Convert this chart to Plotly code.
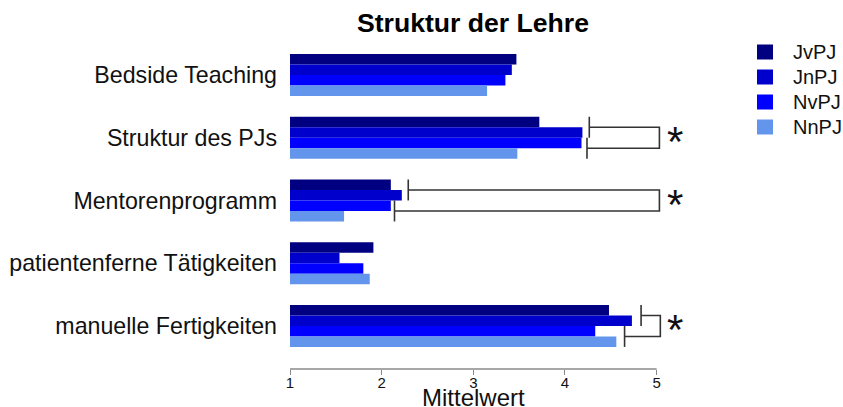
import plotly.graph_objects as go

# Mean ratings per teaching aspect and group
categories = ["Bedside Teaching", "Struktur des PJs", "Mentorenprogramm",
              "patientenferne Tätigkeiten", "manuelle Fertigkeiten"]
JvPJ = [3.47, 3.72, 2.10, 1.91, 4.48]
JnPJ = [3.42, 4.19, 2.22, 1.54, 4.73]
NvPJ = [3.35, 4.18, 2.10, 1.80, 4.33]
NnPJ = [3.15, 3.48, 1.59, 1.87, 4.56]

series_names = ["JvPJ", "JnPJ", "NvPJ", "NnPJ"]
series_values = [JvPJ, JnPJ, NvPJ, NnPJ]
series_colors = ["#000080", "#0000CD", "#0000FF", "#6495ED"]

x_ticks = [1, 2, 3, 4, 5]

# Significance brackets: category index, J-arm end, N-arm end, outer edge
sig_rows = [1, 2, 4]
sig_upper = [4.265, 2.29, 4.83]
sig_lower = [4.24, 2.14, 4.65]
sig_right = [5.03, 5.03, 5.04]

FONT = "Liberation Sans, Arial, sans-serif"

# Plot-area geometry in pixels (used to place the hand-drawn legend)
W, H = 843, 407
ML, MR, MT, MB = 290, 145, 44, 38
PW, PH = W - ML - MR, H - MT - MB


def px_to_paper(px, py):
    return (px - ML) / PW, (H - MB - py) / PH


fig = go.Figure()
for name, vals, col in zip(series_names, series_values, series_colors):
    fig.add_trace(go.Bar(
        y=categories, x=vals, name=name, orientation="h",
        marker=dict(color=col, line=dict(width=0)), showlegend=False,
    ))

half = 0.1675   # offset from group centre to the middle of each pair
tick = 0.167    # half length of bracket end ticks
shapes = []
for r, xu, xl, xr in zip(sig_rows, sig_upper, sig_lower, sig_right):
    yu, yl = r - half, r + half
    line = dict(color="#333333", width=1.6)
    shapes.append(dict(type="path", xref="x", yref="y", line=line,
                       path=f"M{xu},{yu} L{xr},{yu} L{xr},{yl} L{xl},{yl}"))
    shapes.append(dict(type="line", xref="x", yref="y", line=line,
                       x0=xu, x1=xu, y0=yu - tick, y1=yu + tick))
    shapes.append(dict(type="line", xref="x", yref="y", line=line,
                       x0=xl, x1=xl, y0=yl - tick, y1=yl + tick))

# x-axis baseline spanning only the tick range
shapes.append(dict(type="line", xref="x", yref="paper", x0=1, x1=5, y0=0, y1=0,
                   line=dict(color="#8a8a8a", width=1.5)))

annotations = []
for r in sig_rows:
    annotations.append(dict(x=5.2, y=r, xref="x", yref="y", text="*",
                            showarrow=False, yshift=-4,
                            font=dict(family=FONT, size=42, color="#111111")))
annotations.append(dict(x=3, y=1 + (MT - 23) / PH, xref="x", yref="paper",
                        yanchor="middle", xanchor="center",
                        text="<b>Struktur der Lehre</b>", showarrow=False,
                        font=dict(family=FONT, size=26.6, color="#000000")))
annotations.append(dict(x=3, y=-(397 - (H - MB)) / PH, xref="x", yref="paper",
                        yanchor="middle", xanchor="center",
                        text="Mittelwert", showarrow=False,
                        font=dict(family=FONT, size=24, color="#111111")))

# Legend: colour squares with labels, stacked top to bottom
legend_y = [52, 77, 102, 127]
for name, col, ly in zip(series_names, series_colors, legend_y):
    x0, y0 = px_to_paper(757, ly + 7.5)
    x1, y1 = px_to_paper(773, ly - 7.5)
    shapes.append(dict(type="rect", xref="paper", yref="paper",
                       x0=x0, x1=x1, y0=y0, y1=y1,
                       fillcolor=col, line=dict(width=0)))
    tx, ty = px_to_paper(791, ly)
    annotations.append(dict(x=tx, y=ty, xref="paper", yref="paper",
                            xanchor="left", yanchor="middle", text=name,
                            showarrow=False,
                            font=dict(family=FONT, size=20, color="#111111")))

fig.update_layout(
    width=W, height=H,
    margin=dict(l=ML, r=MR, t=MT, b=MB, autoexpand=False),
    paper_bgcolor="white", plot_bgcolor="white",
    barmode="group", bargap=0.33, bargroupgap=0,
    font=dict(family=FONT, color="#111111"),
    shapes=shapes, annotations=annotations, showlegend=False,
    xaxis=dict(range=[1, 5.451], tickvals=x_ticks, ticks="outside",
               ticklen=5, tickcolor="#8a8a8a", tickwidth=1.2,
               showgrid=False, zeroline=False, showline=False,
               automargin=False, ticklabelstandoff=-5,
               tickfont=dict(family=FONT, size=15, color="#111111")),
    yaxis=dict(range=[4.686, -0.494], showgrid=False, zeroline=False,
               showline=False, ticks="", ticklabelstandoff=12,
               automargin=False,
               tickfont=dict(family=FONT, size=23.2, color="#111111")),
)

fig.write_html("out.html")
